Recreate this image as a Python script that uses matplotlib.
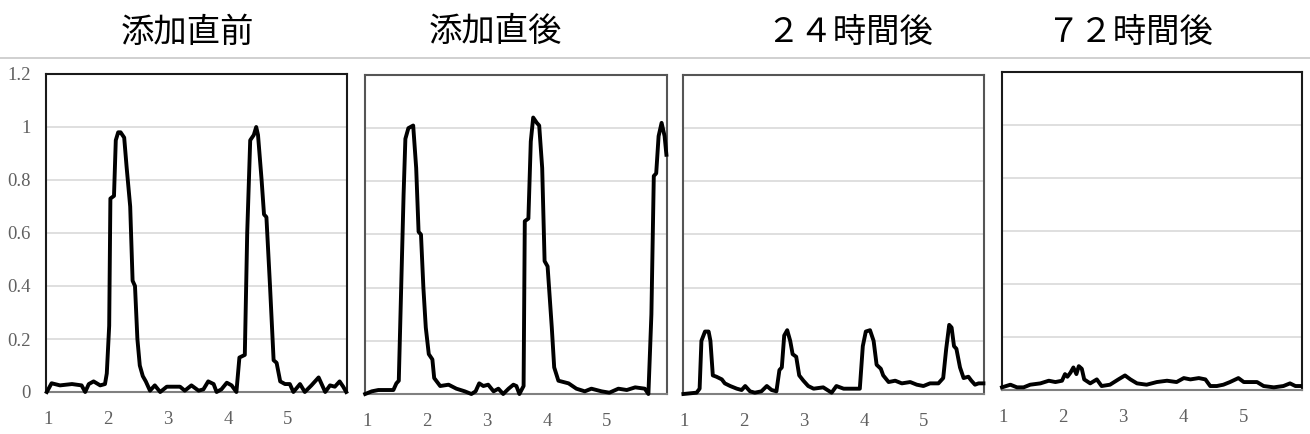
import matplotlib.pyplot as plt
from matplotlib.lines import Line2D

plt.rcParams['font.family'] = ['Noto Sans CJK JP', 'DejaVu Sans']

titles = ['添加直前', '添加直後', '２４時間後', '７２時間後']
title_x = [187, 495, 850, 1130]
yticks = [0, 0.2, 0.4, 0.6, 0.8, 1, 1.2]
ytick_labels = ['0', '0.2', '0.4', '0.6', '0.8', '1', '1.2']
xticks = [1, 2, 3, 4, 5]

# before addition
x1 = [0.98, 1.06, 1.2, 1.4, 1.56, 1.62, 1.68, 1.76, 1.87, 1.95, 1.98, 2.02, 2.04, 2.1, 2.13,
      2.17, 2.21, 2.27, 2.31, 2.37, 2.41, 2.45, 2.49, 2.53, 2.58, 2.63, 2.7, 2.78, 2.87, 2.98,
      3.2, 3.28, 3.39, 3.51, 3.59, 3.67, 3.76, 3.81, 3.89, 3.98, 4.06, 4.14, 4.19, 4.28, 4.32,
      4.37, 4.43, 4.47, 4.5, 4.56, 4.6, 4.64, 4.7, 4.76, 4.81, 4.87, 4.95, 5.03, 5.09, 5.2,
      5.28, 5.39, 5.51, 5.56, 5.62, 5.7, 5.78, 5.86, 5.92, 5.97]
y1 = [0.0, 0.033, 0.025, 0.03, 0.025, 0.0, 0.03, 0.04, 0.025, 0.03, 0.07, 0.25, 0.73, 0.74, 0.95,
      0.98, 0.98, 0.96, 0.85, 0.7, 0.42, 0.4, 0.2, 0.1, 0.06, 0.04, 0.005, 0.025, 0.0, 0.02,
      0.02, 0.005, 0.025, 0.005, 0.01, 0.04, 0.03, 0.0, 0.01, 0.035, 0.025, 0.0, 0.13, 0.14, 0.6,
      0.95, 0.97, 1.0, 0.97, 0.8, 0.67, 0.66, 0.4, 0.12, 0.11, 0.04, 0.03, 0.03, 0.0, 0.03,
      0.0, 0.025, 0.055, 0.03, 0.0, 0.025, 0.02, 0.04, 0.02, 0.0]

# right after addition
x2 = [0.97, 1.08, 1.19, 1.44, 1.49, 1.53, 1.57, 1.61, 1.64, 1.69, 1.77, 1.82, 1.86, 1.9, 1.94,
      1.98, 2.03, 2.09, 2.12, 2.22, 2.36, 2.49, 2.63, 2.74, 2.81, 2.87, 2.94, 3.02, 3.11, 3.19,
      3.27, 3.36, 3.44, 3.49, 3.54, 3.61, 3.63, 3.69, 3.73, 3.77, 3.83, 3.87, 3.92, 3.96, 4.01,
      4.08, 4.12, 4.19, 4.36, 4.49, 4.63, 4.74, 4.91, 5.04, 5.19, 5.33, 5.47, 5.63, 5.69, 5.74,
      5.78, 5.82, 5.86, 5.91, 5.96, 5.99]
y2 = [0.0, 0.01, 0.015, 0.015, 0.04, 0.05, 0.4, 0.75, 0.96, 1.0, 1.01, 0.85, 0.61, 0.6, 0.4,
      0.25, 0.15, 0.13, 0.06, 0.03, 0.035, 0.02, 0.01, 0.0, 0.01, 0.04, 0.03, 0.035, 0.01, 0.02,
      0.0, 0.02, 0.035, 0.03, 0.0, 0.03, 0.65, 0.66, 0.95, 1.04, 1.02, 1.01, 0.85, 0.5, 0.48,
      0.25, 0.1, 0.05, 0.04, 0.02, 0.01, 0.02, 0.01, 0.005, 0.02, 0.015, 0.025, 0.02, 0.0, 0.3,
      0.82, 0.83, 0.97, 1.02, 0.97, 0.9]

# 24 hours later
x3 = [0.99, 1.21, 1.26, 1.29, 1.35, 1.41, 1.44, 1.48, 1.54, 1.63, 1.68, 1.77, 1.88, 1.96, 2.02,
      2.1, 2.18, 2.29, 2.38, 2.46, 2.54, 2.59, 2.63, 2.67, 2.72, 2.77, 2.81, 2.87, 2.92, 2.99,
      3.07, 3.16, 3.32, 3.46, 3.54, 3.66, 3.79, 3.93, 3.98, 4.03, 4.1, 4.16, 4.21, 4.28, 4.32,
      4.41, 4.52, 4.63, 4.77, 4.88, 4.99, 5.1, 5.24, 5.32, 5.37, 5.42, 5.46, 5.5, 5.54, 5.6,
      5.66, 5.74, 5.79, 5.85, 5.91, 5.99]
y3 = [0.0, 0.005, 0.02, 0.2, 0.235, 0.235, 0.2, 0.07, 0.065, 0.055, 0.04, 0.03, 0.02, 0.015, 0.03,
      0.01, 0.005, 0.01, 0.03, 0.015, 0.01, 0.09, 0.1, 0.22, 0.24, 0.2, 0.15, 0.14, 0.07, 0.05,
      0.03, 0.02, 0.025, 0.005, 0.03, 0.02, 0.02, 0.02, 0.18, 0.235, 0.24, 0.2, 0.11, 0.095, 0.07,
      0.045, 0.05, 0.04, 0.045, 0.035, 0.03, 0.04, 0.04, 0.06, 0.17, 0.26, 0.25, 0.18, 0.17, 0.1,
      0.06, 0.065, 0.05, 0.035, 0.04, 0.04]

# 72 hours later
x4 = [0.98, 1.12, 1.23, 1.34, 1.45, 1.62, 1.76, 1.87, 1.98, 2.03, 2.07, 2.12, 2.17, 2.22, 2.26,
      2.31, 2.35, 2.45, 2.56, 2.64, 2.78, 2.92, 3.03, 3.12, 3.23, 3.39, 3.56, 3.73, 3.89, 4.01,
      4.12, 4.26, 4.37, 4.45, 4.56, 4.67, 4.78, 4.92, 5.01, 5.14, 5.23, 5.34, 5.51, 5.67, 5.78,
      5.87, 5.95]
y4 = [0.01, 0.02, 0.01, 0.01, 0.02, 0.025, 0.035, 0.03, 0.035, 0.06, 0.05, 0.065, 0.085, 0.06, 0.09,
      0.08, 0.04, 0.025, 0.04, 0.015, 0.02, 0.04, 0.055, 0.04, 0.025, 0.02, 0.03, 0.035, 0.03, 0.045,
      0.04, 0.045, 0.04, 0.015, 0.015, 0.02, 0.03, 0.045, 0.03, 0.03, 0.03, 0.015, 0.01, 0.015, 0.025,
      0.015, 0.015]

series = [(x1, y1), (x2, y2), (x3, y3), (x4, y4)]
# axes boxes in pixels: left, top, right, bottom
boxes = [(46, 74, 347, 392), (365, 75, 667, 394), (683, 75, 984, 394), (1002, 72, 1302, 390)]
xlims = [(0.967, 5.983), (0.967, 6.0), (0.983, 6.0), (0.98, 5.98)]
spine_colors = ['#1a1a1a', '#555555', '#555555', '#1a1a1a']

W, H = 1310, 434
fig = plt.figure(figsize=(W / 100, H / 100), dpi=100)

for i, (x, y) in enumerate(series):
    l, t, r, b = boxes[i]
    ax = fig.add_axes([l / W, (H - b) / H, (r - l) / W, (b - t) / H])
    ax.plot(x, y, color='black', lw=2.8, clip_on=False, zorder=3, solid_joinstyle='round')
    ax.set_xlim(*xlims[i])
    ax.set_ylim(0, 1.2)
    ax.set_yticks(yticks)
    ax.grid(axis='y', color='#d9d9d9', lw=1.2)
    ax.set_axisbelow(True)
    ax.set_xticks(xticks)
    ax.set_xticklabels([str(v) for v in xticks], family='Liberation Serif', fontsize=13.5, color='#606060')
    if i == 0:
        ax.set_yticklabels(ytick_labels, family='Liberation Serif', fontsize=13.5, color='#606060')
    else:
        ax.set_yticklabels([])
    ax.tick_params(length=0)
    ax.tick_params(axis='x', pad=14)
    ax.tick_params(axis='y', pad=11)
    for sp in ax.spines.values():
        sp.set_color(spine_colors[i])
        sp.set_linewidth(1.5)
    ax.spines['bottom'].set_color('#808080')

for tx, label in zip(title_x, titles):
    fig.text(tx / W, 1 - 32 / H, label, ha='center', va='center', fontsize=24, color='black')

fig.add_artist(Line2D([0, 1], [1 - 58 / H, 1 - 58 / H], color='#c8c8c8', lw=1.2))

fig.savefig('out.png', dpi=100)
